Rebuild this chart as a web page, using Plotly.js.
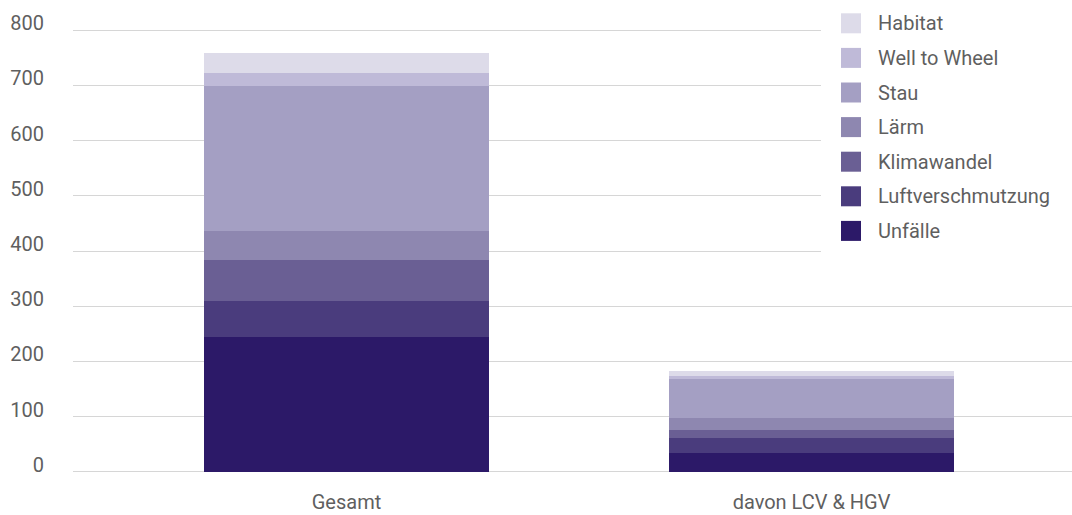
<!DOCTYPE html>
<html>
<head>
<meta charset="utf-8">
<script src="https://cdn.plot.ly/plotly-3.0.1.min.js"></script>
<style>
  html, body { margin: 0; padding: 0; background: #ffffff; }
  #chart { width: 1072px; height: 515px; }
</style>
</head>
<body>
<div id="chart"></div>
<script>
// Externe Kosten des Verkehrs (gestapelt)
const categories = ['Gesamt', 'davon LCV & HGV'];

// Stack order: bottom to top
const seriesNames = ['Unfälle', 'Luftverschmutzung', 'Klimawandel', 'Lärm', 'Stau', 'Well to Wheel', 'Habitat'];
const unfaelle          = [245, 35];
const luftverschmutzung = [65, 27];
const klimawandel       = [73, 13];
const laerm             = [54, 22];
const stau              = [262, 71];
const wellToWheel       = [24, 6];
const habitat           = [36, 8];
const seriesValues = [unfaelle, luftverschmutzung, klimawandel, laerm, stau, wellToWheel, habitat];
const seriesColors = ['#2c1968', '#4a3c7d', '#6a5f94', '#8e87b0', '#a49fc3', '#bfbad8', '#dddbe9'];

const yTicks = [0, 100, 200, 300, 400, 500, 600, 700, 800];

const FONT = 'Roboto, "Noto Sans", Arial, sans-serif';
const TEXT = '#5f5f5f';
const FS = 20;

const W = 1072, H = 515;
const M = { l: 73, r: 0, t: 29, b: 42 };
const plotW = W - M.l - M.r, plotH = H - M.t - M.b;

// pixel -> paper helpers for the legend block
const px = x => (x - M.l) / plotW;
const py = y => (H - M.b - y) / plotH;

const traces = seriesNames.map((name, i) => ({
  type: 'bar',
  name: name,
  x: categories,
  y: seriesValues[i],
  width: 0.613,
  marker: { color: seriesColors[i], line: { width: 0 } },
  showlegend: false,
  hovertemplate: '%{x}<br>' + name + ': %{y}<extra></extra>'
}));

// Legend: listed top to bottom in reverse stack order
const shapes = [{
  type: 'rect', xref: 'paper', yref: 'paper', layer: 'above',
  x0: px(821), x1: px(W), y0: py(0), y1: py(280),
  fillcolor: '#ffffff', line: { width: 0 }
}];
const annotations = [];
const rowTop = 13.3, rowGap = 34.6, sw = 20;
seriesNames.slice().reverse().forEach((name, k) => {
  const i = seriesNames.length - 1 - k;
  const top = rowTop + k * rowGap;
  shapes.push({
    type: 'rect', xref: 'paper', yref: 'paper', layer: 'above',
    x0: px(841), x1: px(841 + sw), y0: py(top + sw), y1: py(top),
    fillcolor: seriesColors[i], line: { width: 0 }
  });
  annotations.push({
    xref: 'paper', yref: 'paper', x: px(876), y: py(top + sw / 2),
    xanchor: 'left', yanchor: 'middle', showarrow: false,
    text: name, font: { family: FONT, size: FS, color: TEXT }
  });
});

const layout = {
  width: W, height: H,
  margin: M,
  paper_bgcolor: '#ffffff',
  plot_bgcolor: '#ffffff',
  barmode: 'stack',
  bargap: 0,
  showlegend: false,
  font: { family: FONT, size: FS, color: TEXT },
  xaxis: {
    type: 'category',
    range: [-0.588, 1.560],
    showgrid: false,
    zeroline: false,
    showline: false,
    ticks: '',
    ticklabelstandoff: 15,
    tickfont: { family: FONT, size: FS, color: TEXT },
    fixedrange: true
  },
  yaxis: {
    range: [-2, 802],
    tickvals: yTicks,
    ticktext: yTicks.map(String),
    showgrid: true,
    gridcolor: '#d6d6d6',
    gridwidth: 1,
    zeroline: false,
    showline: false,
    ticks: '',
    ticklabelstandoff: 28,
    ticklabelshift: -7,
    tickfont: { family: FONT, size: FS, color: TEXT },
    fixedrange: true
  },
  shapes: shapes,
  annotations: annotations
};

Plotly.newPlot('chart', traces, layout, { displayModeBar: false, staticPlot: true });
</script>
</body>
</html>
